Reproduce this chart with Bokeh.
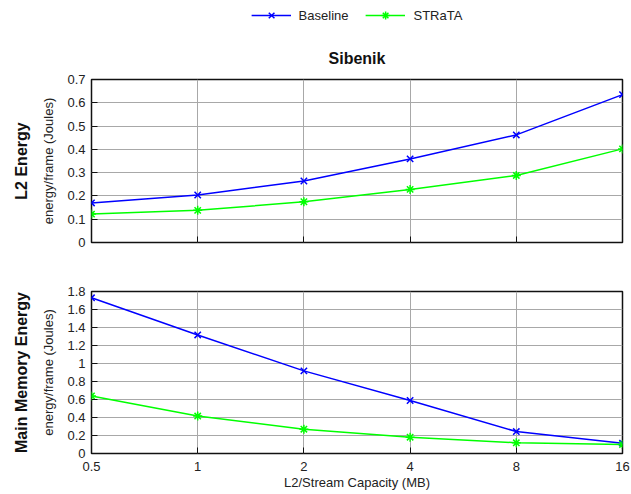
from bokeh.plotting import figure
from bokeh.layouts import column
from bokeh.models import Range1d, FixedTicker, Legend, LegendItem, Title
from bokeh.embed import file_html
from bokeh.resources import INLINE

# ---- data ----
capacity = [0.5, 1, 2, 4, 8, 16]
x_tick_labels = ["0.5", "1", "2", "4", "8", "16"]
series_names = ["Baseline", "STRaTA"]
l2_baseline = [0.170, 0.204, 0.264, 0.359, 0.462, 0.635]
l2_strata = [0.122, 0.138, 0.175, 0.228, 0.288, 0.402]
mem_baseline = [1.73, 1.317, 0.918, 0.589, 0.244, 0.115]
mem_strata = [0.64, 0.416, 0.27, 0.181, 0.119, 0.100]
l2_ticks = [0, 0.1, 0.2, 0.3, 0.4, 0.5, 0.6, 0.7]
l2_tick_labels = ["0", "0.1", "0.2", "0.3", "0.4", "0.5", "0.6", "0.7"]
mem_ticks = [0, 0.2, 0.4, 0.6, 0.8, 1.0, 1.2, 1.4, 1.6, 1.8]
mem_tick_labels = ["0", "0.2", "0.4", "0.6", "0.8", "1", "1.2", "1.4", "1.6", "1.8"]

FONT = "Liberation Sans"
BLUE = "#0000ff"
GREEN = "#00ff00"
GRID = "#a8a8a8"
W = 631
LEFT = 91
RIGHT = 9


def style(p, yticks, ylabels, xlabels):
    p.outline_line_color = "#111111"
    p.outline_line_width = 1.5
    p.xgrid.grid_line_color = GRID
    p.ygrid.grid_line_color = GRID
    for ax in (p.xaxis[0], p.yaxis[0]):
        ax.axis_line_color = None
        ax.major_tick_in = 6
        ax.major_tick_out = 0
        ax.major_tick_line_color = "#111111"
        ax.minor_tick_line_color = None
        ax.major_label_text_font = FONT
        ax.major_label_text_font_size = "13px"
        ax.major_label_text_color = "#222222"
        ax.axis_label_text_font = FONT
        ax.axis_label_text_font_size = "13px"
        ax.axis_label_text_font_style = "normal"
        ax.axis_label_text_color = "#222222"
    p.xaxis[0].ticker = FixedTicker(ticks=capacity)
    p.xaxis[0].major_label_overrides = dict(zip(capacity, xlabels))
    p.yaxis[0].ticker = FixedTicker(ticks=yticks)
    p.yaxis[0].major_label_overrides = dict(zip(yticks, ylabels))
    p.yaxis[0].major_label_standoff = 6
    p.yaxis[0].axis_label = "energy/frame (Joules)"
    p.yaxis[0].axis_label_standoff = 8


def add_series(p, base, strata):
    r1 = p.line(capacity, base, line_color=BLUE, line_width=1.5)
    m1 = p.scatter(capacity, base, marker="x", size=9, line_color=BLUE, line_width=1.5)
    r2 = p.line(capacity, strata, line_color=GREEN, line_width=1.5)
    m2 = p.scatter(capacity, strata, marker="asterisk", size=9, line_color=GREEN, line_width=1.5)
    return [r1, m1], [r2, m2]


def side_title(text):
    return Title(text=text, align="center", text_font=FONT,
                 text_font_size="16px", text_font_style="bold",
                 text_color="#111111", standoff=17)


# ---- legend strip (series drawn outside its visible ranges; only the legend shows) ----
pl = figure(width=W, height=30, x_range=Range1d(1000, 1001), y_range=Range1d(1000, 1001),
            output_backend="svg", toolbar_location=None,
            x_axis_location=None, y_axis_location=None,
            min_border_left=LEFT, min_border_right=RIGHT,
            min_border_top=0, min_border_bottom=0)
pl.outline_line_color = None
pl.grid.visible = False
lb, ls = add_series(pl, l2_baseline, l2_strata)
legend = Legend(items=[LegendItem(label=series_names[0], renderers=lb),
                       LegendItem(label=series_names[1], renderers=ls)],
                orientation="horizontal", location="center",
                border_line_color=None, background_fill_alpha=0,
                label_text_font=FONT, label_text_font_size="13px",
                label_text_color="#222222",
                glyph_width=40, glyph_height=20, spacing=17,
                label_standoff=8, padding=0, margin=0)
pl.add_layout(legend, "center")

# ---- top plot ----
p1 = figure(width=W, height=236, x_axis_type="log",
            x_range=Range1d(0.5, 16), y_range=Range1d(0, 0.7),
            output_backend="svg", toolbar_location=None,
            min_border_left=LEFT, min_border_right=RIGHT,
            min_border_top=49, min_border_bottom=24)
p1.title.text = "Sibenik"
p1.title.align = "center"
p1.title.text_font = FONT
p1.title.text_font_size = "16px"
p1.title.text_font_style = "bold"
p1.title.text_color = "#111111"
p1.title.standoff = 26
style(p1, l2_ticks, l2_tick_labels, [""] * len(capacity))
add_series(p1, l2_baseline, l2_strata)
p1.add_layout(side_title("L2 Energy"), "left")

# ---- bottom plot ----
p2 = figure(width=W, height=228, x_axis_type="log",
            x_range=Range1d(0.5, 16), y_range=Range1d(0, 1.8),
            output_backend="svg", toolbar_location=None,
            min_border_left=LEFT, min_border_right=RIGHT,
            min_border_top=25, min_border_bottom=41)
style(p2, mem_ticks, mem_tick_labels, x_tick_labels)
p2.xaxis[0].axis_label = "L2/Stream Capacity (MB)"
p2.xaxis[0].major_label_standoff = 8
p2.xaxis[0].axis_label_standoff = 1
add_series(p2, mem_baseline, mem_strata)
p2.add_layout(side_title("Main Memory Energy"), "left")

layout = column(pl, p1, p2, spacing=0)
open("out.html", "w").write(file_html(layout, INLINE))
